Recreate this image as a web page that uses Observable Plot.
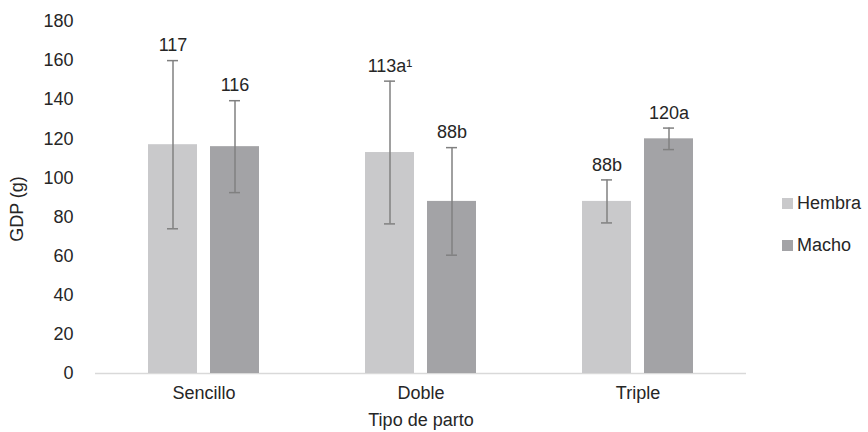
<!DOCTYPE html>
<html>
<head>
<meta charset="utf-8">
<script src="https://cdn.jsdelivr.net/npm/d3@7"></script>
<script src="https://cdn.jsdelivr.net/npm/@observablehq/plot@0.6"></script>
<style>
  html, body { margin: 0; padding: 0; background: white; overflow: hidden; }
  #wrap { position: relative; width: 868px; height: 432px; font-family: 'Liberation Sans', Arial, sans-serif; color: #262626; }
  #wrap svg { position: absolute; left: 0; top: 0; }
  .leg { position: absolute; left: 782px; display: flex; align-items: center; font-size: 18px; line-height: 22px; white-space: nowrap; }
  .leg .sw { width: 11px; height: 11px; margin-right: 4px; }
  #ylab { position: absolute; left: 17px; top: 209px; font-size: 18px; line-height: 20px; white-space: nowrap; transform: translate(-50%, -50%) rotate(-90deg); }
</style>
</head>
<body>
<div id="wrap"></div>
<script>
const tipos = ["Sencillo", "Doble", "Triple"];
const sexos = ["Hembra", "Macho"];
const hembra = [117, 113, 88];
const macho = [116, 88, 120];
const hembraDE = [43, 36.5, 11];
const machoDE = [23.5, 27.5, 5.5];
const hembraEtiquetas = ["117", "113a\u00B9", "88b"];
const machoEtiquetas = ["116", "88b", "120a"];
const yTicks = [0, 20, 40, 60, 80, 100, 120, 140, 160, 180];
const colores = ["#c9c9cb", "#a3a3a6"];
const yTitulo = "GDP (g)";
const xTitulo = "Tipo de parto";

const data = tipos.flatMap((t, i) => [
  {tipo: t, sexo: "Hembra", valor: hembra[i], de: hembraDE[i], etiqueta: hembraEtiquetas[i]},
  {tipo: t, sexo: "Macho", valor: macho[i], de: machoDE[i], etiqueta: machoEtiquetas[i]}
]);

const errColor = "#808080";
const chart = Plot.plot({
  width: 868, height: 432,
  marginLeft: 95, marginRight: 122, marginTop: 21, marginBottom: 59,
  style: {fontFamily: "'Liberation Sans', Arial, sans-serif", fontSize: "18px", color: "#262626", background: "transparent"},
  fx: {domain: tipos, padding: 0, label: null},
  x: {domain: sexos, paddingInner: 0.21, paddingOuter: 0.855, axis: null},
  y: {domain: [0, 180]},
  color: {domain: sexos, range: colores},
  marks: [
    Plot.axisY({ticks: yTicks, tickSize: 0, tickPadding: 22, label: null, fontSize: 18}),
    Plot.axisFx({anchor: "bottom", tickSize: 0, tickPadding: 13, label: null, fontSize: 18, fontWeight: "normal"}),
    Plot.ruleY([0], {stroke: "#d9d9d9", strokeWidth: 1.3}),
    Plot.barY(data, {fx: "tipo", x: "sexo", y: "valor", fill: "sexo"}),
    Plot.ruleX(data, {fx: "tipo", x: "sexo", y1: d => d.valor - d.de, y2: d => d.valor + d.de, stroke: errColor, strokeWidth: 1.5}),
    Plot.tickY(data, {fx: "tipo", x: "sexo", y: d => d.valor - d.de, stroke: errColor, strokeWidth: 1.5, insetLeft: 19, insetRight: 19}),
    Plot.tickY(data, {fx: "tipo", x: "sexo", y: d => d.valor + d.de, stroke: errColor, strokeWidth: 1.5, insetLeft: 19, insetRight: 19}),
    Plot.text(data, {fx: "tipo", x: "sexo", y: d => d.valor + d.de, text: "etiqueta", dy: -15, fontSize: 18, fill: "#262626"}),
    Plot.text([xTitulo], {fx: () => "Doble", text: d => d, frameAnchor: "bottom", dy: 52, fontSize: 18, fill: "#262626"})
  ]
});
const wrap = document.getElementById("wrap");
wrap.appendChild(chart);

const ylab = document.createElement("div");
ylab.id = "ylab";
ylab.textContent = yTitulo;
wrap.appendChild(ylab);

const legTops = [192, 234];
sexos.forEach((s, i) => {
  const row = document.createElement("div");
  row.className = "leg";
  row.style.top = legTops[i] + "px";
  const sw = document.createElement("div");
  sw.className = "sw";
  sw.style.background = colores[i];
  const tx = document.createElement("span");
  tx.textContent = s;
  row.appendChild(sw);
  row.appendChild(tx);
  wrap.appendChild(row);
});
</script>
</body>
</html>
